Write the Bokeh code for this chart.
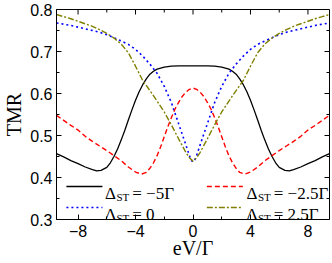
import math
from bokeh.plotting import figure
from bokeh.models import FixedTicker, Range1d, Label
from bokeh.embed import file_html
from bokeh.resources import INLINE

# ---- data (curves are symmetric in eV) ----
x_black_half = [-9.5, -9.0, -8.5, -8.0, -7.5, -7.0, -6.7, -6.4, -6.0, -5.75, -5.5, -5.25, -5.0,
                -4.75, -4.5, -4.25, -4.0, -3.75, -3.5, -3.25, -3.0, -2.75, -2.5, -2.0, -1.5, -1.0, 0.0]
y_black_half = [0.457, 0.449, 0.440, 0.433, 0.425, 0.419, 0.416, 0.417, 0.424, 0.435, 0.450, 0.468, 0.489,
                0.512, 0.537, 0.561, 0.584, 0.604, 0.621, 0.635, 0.646, 0.653, 0.658, 0.663, 0.665, 0.666, 0.666]

x_red_half = [-9.5, -9.0, -8.5, -8.0, -7.5, -7.0, -6.5, -6.0, -5.5, -5.0, -4.5, -4.0, -3.6, -3.25,
              -3.0, -2.75, -2.5, -2.25, -2.0, -1.75, -1.5, -1.25, -1.0, -0.75, -0.5, -0.25, 0.0]
y_red_half = [0.548, 0.536, 0.524, 0.513, 0.498, 0.486, 0.475, 0.464, 0.452, 0.440, 0.425, 0.413, 0.408, 0.412,
              0.422, 0.435, 0.452, 0.473, 0.497, 0.521, 0.543, 0.563, 0.579, 0.593, 0.603, 0.610, 0.613]

x_blue_half = [-9.5, -9.0, -8.5, -8.0, -7.5, -7.0, -6.5, -6.0, -5.5, -5.0, -4.5, -4.0, -3.5, -3.0,
               -2.5, -2.0, -1.5, -1.0, -0.75, -0.5, -0.25, -0.1, 0.0]
y_blue_half = [0.768, 0.765, 0.762, 0.758, 0.754, 0.750, 0.746, 0.740, 0.733, 0.725, 0.717, 0.705, 0.689, 0.670,
               0.648, 0.617, 0.578, 0.528, 0.503, 0.478, 0.452, 0.440, 0.437]

x_olive_half = [-9.5, -9.0, -8.5, -8.0, -7.5, -7.0, -6.5, -6.0, -5.5, -5.0, -4.5, -4.0, -3.5, -3.0,
                -2.5, -2.0, -1.5, -1.0, -0.5, -0.25, 0.0]
y_olive_half = [0.788, 0.783, 0.778, 0.772, 0.766, 0.760, 0.752, 0.743, 0.732, 0.718, 0.697, 0.665, 0.631, 0.607,
                0.582, 0.556, 0.525, 0.492, 0.460, 0.447, 0.439]

x_ticks = [-8, -4, 0, 4, 8]
x_minor = [-6, -2, 2, 6]
y_ticks = [0.3, 0.4, 0.5, 0.6, 0.7, 0.8]
y_minor = [0.35, 0.45, 0.55, 0.65, 0.75]
x_lim = (-9.5, 9.5)
y_lim = (0.3, 0.8)

labels = ["= \u22125\u0393", "= 0", "= \u22122.5\u0393", "= 2.5\u0393"]


def mirror(xs, ys):
    xx = list(xs) + [-v for v in reversed(xs[:-1])]
    yy = list(ys) + list(reversed(ys[:-1]))
    return xx, yy


bx, by = mirror(x_black_half, y_black_half)
rx, ry = mirror(x_red_half, y_red_half)
ux, uy = mirror(x_blue_half, y_blue_half)
ox, oy = mirror(x_olive_half, y_olive_half)

p = figure(width=332, height=263, output_backend="svg", toolbar_location=None,
           x_range=Range1d(*x_lim), y_range=Range1d(*y_lim),
           min_border_left=53, min_border_right=3, min_border_top=9, min_border_bottom=44)
p.grid.visible = False
p.outline_line_color = "black"
p.outline_line_width = 1
p.background_fill_color = "white"
p.border_fill_color = "white"

styles = [dict(line_color="black", line_width=1.3),
          dict(line_color="#0000ff", line_width=1.6, line_dash="2 3"),
          dict(line_color="#ff0000", line_width=1.4, line_dash="5 3"),
          dict(line_color="#808000", line_width=1.4, line_dash="6 2 2 2")]

p.line(bx, by, **styles[0])
p.line(ux, uy, **styles[1])
p.line(rx, ry, **styles[2])
p.line(ox, oy, **styles[3])

for ax in [p.xaxis[0], p.yaxis[0]]:
    ax.major_tick_in = 5
    ax.major_tick_out = 0
    ax.minor_tick_in = 3
    ax.minor_tick_out = 0
    ax.major_label_text_font = "Liberation Sans"
    ax.major_label_text_font_size = "16px"
    ax.major_label_text_color = "black"
    ax.axis_label_text_font = "Liberation Serif"
    ax.axis_label_text_font_style = "normal"
    ax.axis_label_text_font_size = "20px"
    ax.axis_label_text_color = "black"
    ax.axis_line_color = "black"

p.xaxis[0].ticker = FixedTicker(ticks=x_ticks, minor_ticks=x_minor)
p.yaxis[0].ticker = FixedTicker(ticks=y_ticks, minor_ticks=y_minor)
p.xaxis[0].axis_label = "eV/\u0393"
p.yaxis[0].axis_label = "TMR"
p.xaxis[0].major_label_standoff = 5
p.xaxis[0].axis_label_standoff = -3
p.yaxis[0].major_label_standoff = 4
p.yaxis[0].axis_label_standoff = 2

# mirrored inward ticks on the top and right frame edges
p.ray(x=x_ticks, y=[y_lim[1]] * len(x_ticks), length=5, length_units="screen",
      angle=-math.pi / 2, line_color="black", line_width=1)
p.ray(x=x_minor, y=[y_lim[1]] * len(x_minor), length=3, length_units="screen",
      angle=-math.pi / 2, line_color="black", line_width=1)
p.ray(x=[x_lim[1]] * len(y_ticks), y=y_ticks, length=5, length_units="screen",
      angle=math.pi, line_color="black", line_width=1)
p.ray(x=[x_lim[1]] * len(y_minor), y=y_minor, length=3, length_units="screen",
      angle=math.pi, line_color="black", line_width=1)

# ---- legend (2 columns x 2 rows) drawn as annotation: sample line + Δ_ST = value ----
serif = "Liberation Serif"
leg_sample_x = [-8.81, -8.81, 0.964, 0.964]   # left end of each sample line
leg_line_y = [0.3786, 0.3286, 0.3786, 0.3286]  # sample line height
leg_text_x = [-6.13, -6.13, 3.72, 3.72]       # where "Δ" starts
baseline_drop = 0.0167   # text baseline below sample line
sub_drop = 0.0095        # subscript below text baseline
for i in range(4):
    p.ray(x=[leg_sample_x[i]], y=[leg_line_y[i]], length=36, length_units="screen",
          angle=0, **styles[i])
    base = leg_line_y[i] - baseline_drop
    p.add_layout(Label(x=leg_text_x[i], y=base, text="\u0394", text_font=serif,
                       text_font_size="17px", text_baseline="alphabetic", text_color="black"))
    p.add_layout(Label(x=leg_text_x[i] + 0.8, y=base - sub_drop, text="ST", text_font=serif,
                       text_font_size="11px", text_baseline="alphabetic", text_color="black"))
    p.add_layout(Label(x=leg_text_x[i] + 1.9, y=base, text=labels[i], text_font=serif,
                       text_font_size="17px", text_baseline="alphabetic", text_color="black"))

open("out.html", "w").write(file_html(p, INLINE))
